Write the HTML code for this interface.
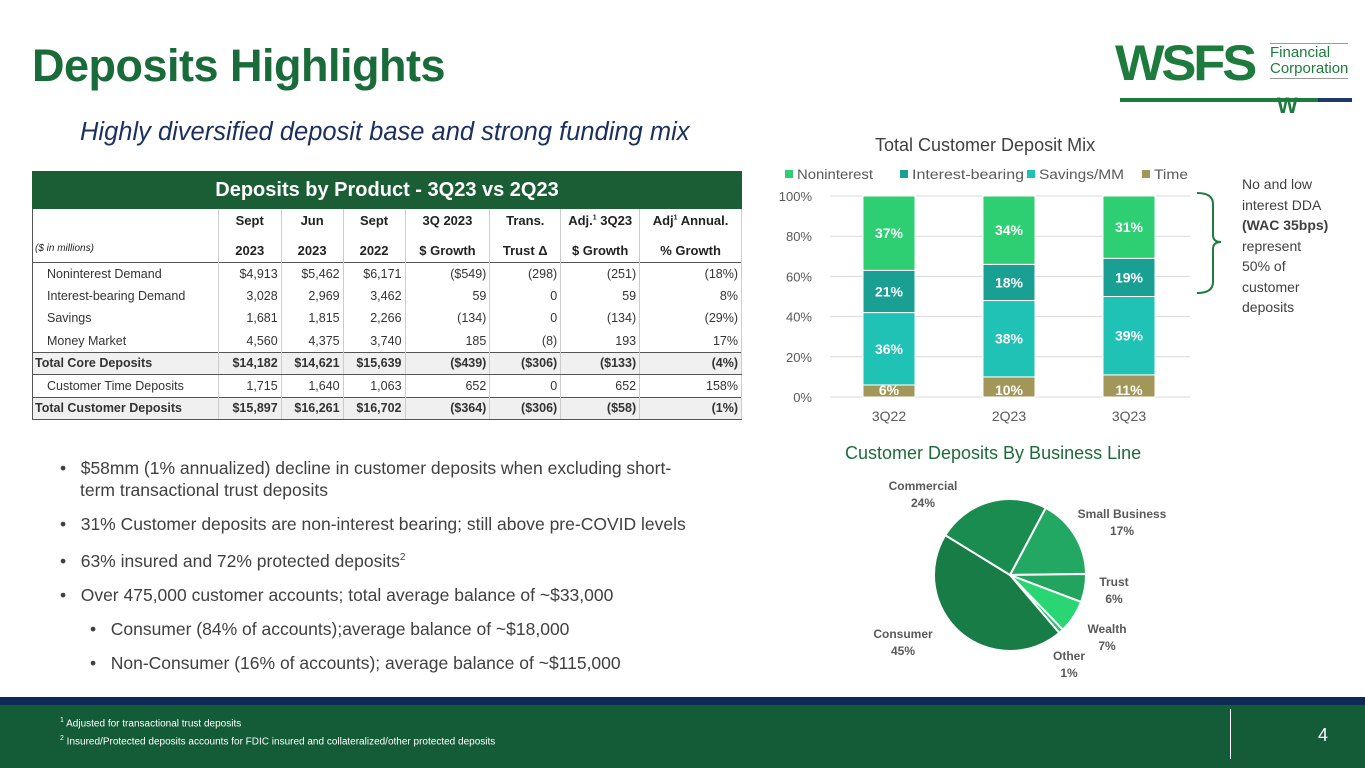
<!DOCTYPE html>
<html><head><meta charset="utf-8"><style>
*{margin:0;padding:0;box-sizing:border-box}
body{width:1365px;height:768px;position:relative;background:#fff;font-family:"Liberation Sans",sans-serif;overflow:hidden;color:#404040}
.abs{position:absolute}
table{border-collapse:collapse;font-size:12.5px;color:#333;font-family:"Liberation Sans",sans-serif}
td{height:22.5px;padding:0 3px;text-align:right;border-right:1px solid #ccc;white-space:nowrap}
td:first-child{text-align:left;padding-left:14px}
tr.b td{font-weight:bold;background:#f0f0f0;border-top:1px solid #555;border-bottom:1px solid #555}
tr.b td:first-child{padding-left:2px}
.bul{font-size:17.5px;color:#404040;line-height:22px}
</style></head><body>
<div class="abs" style="left:32px;top:40px;font-size:45px;font-weight:bold;color:#196b3a;letter-spacing:-0.5px">Deposits Highlights</div>
<div class="abs" style="left:1120px;top:98px;width:198px;height:4px;background:#1e7b3e"></div>
<div class="abs" style="left:1318px;top:98px;width:34px;height:4px;background:#1c3a6b"></div>
<div class="abs" style="left:1115px;top:34px;font-size:50px;font-weight:900;color:#1e7b3e;letter-spacing:-3px;transform:scaleX(1.05);transform-origin:left">WSFS</div>
<div class="abs" style="left:1270px;top:43px;font-size:15px;line-height:16px;color:#1e7b3e;border-top:1px solid #999;border-bottom:1px solid #999;padding:1px 0">Financial<br>Corporation</div>
<div class="abs" style="left:1277px;top:93px;font-size:22px;font-weight:900;color:#1e7b3e">W</div>
<div class="abs" style="left:80px;top:118px;font-size:25.5px;font-style:italic;color:#1c3060">Highly diversified deposit base and strong funding mix</div>

<div class="abs" style="left:32px;top:171px;width:710px;height:38px;background:#1b5e35;color:#fff;font-size:20px;font-weight:bold;text-align:center;line-height:38px">Deposits by Product - 3Q23 vs 2Q23</div>
<table class="abs" style="left:32px;top:209px;width:710px;border-left:1px solid #555;border-right:1px solid #555;border-bottom:1px solid #555">
<colgroup><col style="width:186px"><col style="width:63px"><col style="width:62px"><col style="width:62px"><col style="width:85px"><col style="width:71px"><col style="width:79px"><col style="width:102px"></colgroup>
<tr style="font-weight:bold;font-size:13px;color:#222"><td style="height:53px;vertical-align:bottom;padding:0 0 8px 2px;font-size:10px;font-style:italic;font-weight:normal">($ in millions)</td><td style="text-align:center">Sept<br><br>2023</td><td style="text-align:center">Jun<br><br>2023</td><td style="text-align:center">Sept<br><br>2022</td><td style="text-align:center">3Q 2023<br><br>$ Growth</td><td style="text-align:center">Trans.<br><br>Trust Δ</td><td style="text-align:center">Adj.<sup style="font-size:7px">1</sup> 3Q23<br><br>$ Growth</td><td style="text-align:center">Adj<sup style="font-size:7px">1</sup> Annual.<br><br>% Growth</td></tr>
<tr style="border-top:1px solid #555"><td>Noninterest Demand</td><td>$4,913</td><td>$5,462</td><td>$6,171</td><td>($549)</td><td>(298)</td><td>(251)</td><td>(18%)</td></tr>
<tr><td>Interest-bearing Demand</td><td>3,028</td><td>2,969</td><td>3,462</td><td>59</td><td>0</td><td>59</td><td>8%</td></tr>
<tr><td>Savings</td><td>1,681</td><td>1,815</td><td>2,266</td><td>(134)</td><td>0</td><td>(134)</td><td>(29%)</td></tr>
<tr><td>Money Market</td><td>4,560</td><td>4,375</td><td>3,740</td><td>185</td><td>(8)</td><td>193</td><td>17%</td></tr>
<tr class="b"><td>Total Core Deposits</td><td>$14,182</td><td>$14,621</td><td>$15,639</td><td>($439)</td><td>($306)</td><td>($133)</td><td>(4%)</td></tr>
<tr><td>Customer Time Deposits</td><td>1,715</td><td>1,640</td><td>1,063</td><td>652</td><td>0</td><td>652</td><td>158%</td></tr>
<tr class="b"><td>Total Customer Deposits</td><td>$15,897</td><td>$16,261</td><td>$16,702</td><td>($364)</td><td>($306)</td><td>($58)</td><td>(1%)</td></tr>
</table>

<div class="abs" style="left:60px;top:457px;width:700px">
<div class="bul" style="padding-left:20px;text-indent:-20px">•&nbsp;&nbsp;&nbsp;$58mm (1% annualized) decline in customer deposits when excluding short-<br>term transactional trust deposits</div>
<div class="bul" style="margin-top:12px">•&nbsp;&nbsp;&nbsp;31% Customer deposits are non-interest bearing; still above pre-COVID levels</div>
<div class="bul" style="margin-top:12px">•&nbsp;&nbsp;&nbsp;63% insured and 72% protected deposits<sup style="font-size:10px">2</sup></div>
<div class="bul" style="margin-top:12px">•&nbsp;&nbsp;&nbsp;Over 475,000 customer accounts; total average balance of ~$33,000</div>
<div class="bul" style="margin-top:12px;padding-left:30px">•&nbsp;&nbsp;&nbsp;Consumer (84% of accounts);average balance of ~$18,000</div>
<div class="bul" style="margin-top:12px;padding-left:30px">•&nbsp;&nbsp;&nbsp;Non-Consumer (16% of accounts); average balance of ~$115,000</div>
</div>

<div class="abs" style="left:875px;top:135px;font-size:18px;color:#404040">Total Customer Deposit Mix</div>
<svg class="abs" style="left:0;top:0" width="1365" height="768" id="bars"></svg>
<div class="abs" style="left:845px;top:443px;font-size:18px;color:#1e6b3a">Customer Deposits By Business Line</div>
<svg class="abs" style="left:0;top:0" width="1365" height="768" id="pie"></svg>

<div class="abs" style="left:1242px;top:174px;font-size:14px;line-height:20.5px;color:#404040">No and low<br>interest DDA<br><b>(WAC 35bps)</b><br>represent<br>50% of<br>customer<br>deposits</div>
<svg class="abs" style="left:1195px;top:190px" width="30" height="110"><path d="M2 3 Q18 3 18 14 L18 45 Q18 52 26 52 Q18 52 18 59 L18 92 Q18 103 2 103" fill="none" stroke="#1e7b3e" stroke-width="2"/></svg>

<div class="abs" style="left:0;top:697px;width:1365px;height:8px;background:#0d2b55"></div>
<div class="abs" style="left:0;top:705px;width:1365px;height:63px;background:#145b37"></div>
<div class="abs" style="left:60px;top:713px;font-size:10px;line-height:15px;color:#fff"><sup style="font-size:7px">1</sup> Adjusted for transactional trust deposits<br><sup style="font-size:7px">2</sup> Insured/Protected deposits accounts for FDIC insured and collateralized/other protected deposits</div>
<div class="abs" style="left:1230px;top:709px;width:1px;height:50px;background:#fff"></div>
<div class="abs" style="left:1318px;top:725px;font-size:18px;color:#fff">4</div>

<script>
const categories=["3Q22","2Q23","3Q23"];
const seriesNames=["Time","Savings/MM","Interest-bearing","Noninterest"];
const timeVals=[6,10,11];
const savingsVals=[36,38,39];
const ibVals=[21,18,19];
const nonintVals=[37,34,31];
const yTicks=[0,20,40,60,80,100];
const pieLabels=["Small Business","Trust","Wealth","Other","Consumer","Commercial"];
const pieVals=[17,6,7,1,45,24];

const NS="http://www.w3.org/2000/svg";
function mk(svg,tag,attrs,txt){const e=document.createElementNS(NS,tag);for(const k in attrs)e.setAttribute(k,attrs[k]);if(txt!==undefined)e.textContent=txt;svg.appendChild(e);return e;}
const bs=document.getElementById('bars');
const y0=397,y1=196,xL=830,xR=1190;
const yS=v=>y0-(v/100)*(y0-y1);
const xS=i=>889+i*120;
yTicks.forEach(t=>{
  const l=mk(bs,'line',{x1:xL,x2:xR,y1:yS(t),y2:yS(t),stroke:'#d9d9d9','stroke-width':1});
  
  
  const tx=mk(bs,'text',{x:812,y:yS(t)+5,'text-anchor':'end','font-size':13,fill:'#595959','font-family':'Liberation Sans'},t+'%');
  
  
});
const colors=["#a39659","#1fc2b5","#1aa093","#2ecf72"];
const series=[timeVals,savingsVals,ibVals,nonintVals];
categories.forEach((c,i)=>{
  let acc=0;
  series.forEach((s,k)=>{
    const v=s[i];const top=yS(acc+v),bot=yS(acc);
    const r=mk(bs,'rect',{x:xS(i)-26,y:top,width:52,height:bot-top,fill:colors[k],stroke:'#fff','stroke-width':1});
    
    
    const t=mk(bs,'text',{x:xS(i),y:(k===0?bot-2:(top+bot)/2+5),'text-anchor':'middle','font-size':14,'font-weight':'bold',fill:'#fff','font-family':'Liberation Sans'},v+'%');
    
    
    acc+=v;
  });
  const xl=mk(bs,'text',{x:xS(i),y:421,'text-anchor':'middle','font-size':14,fill:'#595959','font-family':'Liberation Sans'},c);
  
  
});
const legX=[785,900,1027,1142];
const legW=[76,112,85,34];
const legOrder=[3,2,1,0];
legOrder.forEach((k,j)=>{
  const r=mk(bs,'rect',{x:legX[j],y:170,width:8,height:8,fill:colors[k]});
  
  
  const t=mk(bs,'text',{x:legX[j]+12,y:179,'font-size':13.5,fill:'#595959','font-family':'Liberation Sans',textLength:legW[j],lengthAdjust:'spacingAndGlyphs'},seriesNames[k]);
  
  
});
// pie
const ps=document.getElementById('pie');
const cx=1010,cy=575,R=76;
const pieColors=["#22a862","#23a45e","#2ad673","#26c46b","#187c46","#1b8c4f"];
const lblPos=[[1122,518],[1114,586],[1107,633],[1069,660],[903,638],[923,490]];
const total=pieVals.reduce((a,b)=>a+b,0);
let ang=28;
pieVals.forEach((v,i)=>{
  const a0=ang*Math.PI/180,a1=(ang+v/total*360)*Math.PI/180;
  const p0=[cx+R*Math.sin(a0),cy-R*Math.cos(a0)],p1=[cx+R*Math.sin(a1),cy-R*Math.cos(a1)];
  const large=(a1-a0)>Math.PI?1:0;
  const p=mk(ps,'path',{d:`M${cx} ${cy} L${p0[0]} ${p0[1]} A${R} ${R} 0 ${large} 1 ${p1[0]} ${p1[1]} Z`,fill:pieColors[i],stroke:'#fff','stroke-width':2});
  
  
  const t=mk(ps,'text',{x:lblPos[i][0],y:lblPos[i][1],'text-anchor':'middle','font-size':12,'font-weight':'bold',fill:'#595959','font-family':'Liberation Sans'});
  
  
  mk(t,'tspan',{x:lblPos[i][0],dy:0},pieLabels[i]);
  mk(t,'tspan',{x:lblPos[i][0],dy:17},v+'%');
  ang+=v/total*360;
});
</script>
</body></html>
